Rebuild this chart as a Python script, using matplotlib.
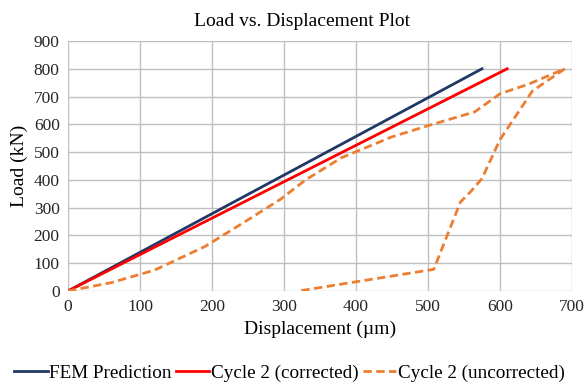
import matplotlib
matplotlib.use("Agg")
import matplotlib.pyplot as plt

plt.rcParams['font.family'] = ['Liberation Serif', 'DejaVu Serif']

fem_x = [0, 575]
fem_y = [0, 800]
corr_x = [0, 610]
corr_y = [0, 800]
unc_x = [0, 60, 120, 190, 240, 295, 330, 380, 450, 500, 565, 600, 640, 690,
         645, 600, 575, 560, 545, 508, 320]
unc_y = [0, 30, 75, 160, 240, 330, 400, 480, 555, 595, 645, 710, 745, 800,
         720, 545, 405, 360, 320, 78, 0]

fig = plt.figure(figsize=(5.87, 3.88), dpi=100)
ax = fig.add_axes([68/587, 1-291/388, (572-68)/587, (291-41)/388])

ax.plot(fem_x, fem_y, color='#1f3864', lw=2, label='FEM Prediction')
ax.plot(corr_x, corr_y, color='#ff0000', lw=2, label='Cycle 2 (corrected)')
ax.plot(unc_x, unc_y, color='#ed7d31', lw=2, ls=(0, (3, 1.6)), label='Cycle 2 (uncorrected)')

ax.set_xlim(0, 700)
ax.set_ylim(0, 900)
ax.set_xticks(range(0, 701, 100))
ax.set_yticks(range(0, 901, 100))
ax.grid(True, color='#bfbfbf', lw=1)
ax.set_axisbelow(True)
for s in ax.spines.values():
    s.set_visible(False)
ax.tick_params(length=0, labelsize=12.5, pad=6, colors='#262626')
ax.set_title('Load vs. Displacement Plot', fontsize=14, pad=11, x=(302-68)/504)
ax.set_xlabel('Displacement (µm)', fontsize=14, labelpad=4)
ax.set_ylabel('Load (kN)', fontsize=14, labelpad=4)

fig.legend(loc='center left', bbox_to_anchor=(14/587, 1-373/388), ncol=3, frameon=False,
           fontsize=13.8, handlelength=1.75, handletextpad=0.1, columnspacing=0.2,
           borderpad=0, borderaxespad=0)

fig.savefig('out.png', dpi=100)
